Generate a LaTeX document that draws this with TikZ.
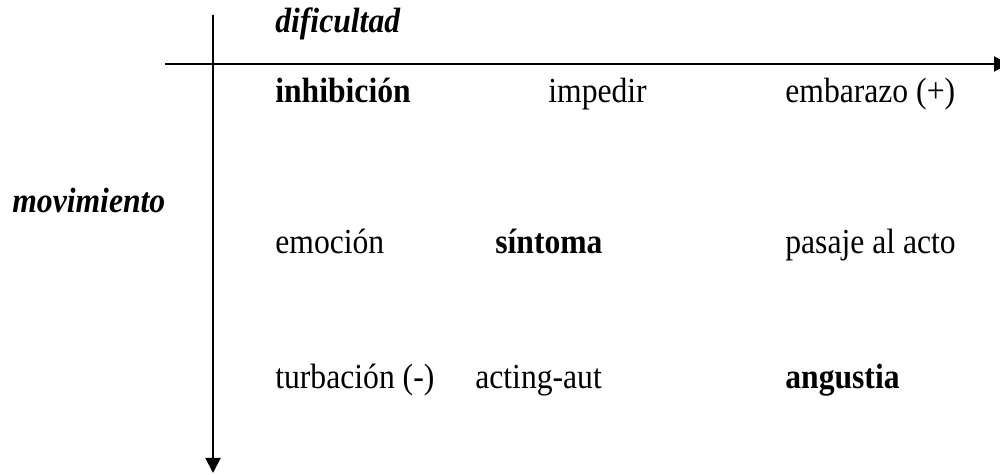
\documentclass[tikz,border=0pt]{standalone}
\usepackage{fontspec}
\setmainfont{Liberation Serif}[FakeStretch=0.9]
\usetikzlibrary{%
    arrows.meta%
}

\begin{document}
\begin{tikzpicture}[ term/.style={font={\fontsize{20}{24}\selectfont},anchor=base west,inner sep=0pt},
    key/.style={term,font={\fontsize{20}{24}\selectfont\bfseries}},
    axislabel/.style={term,font={\fontsize{20}{24}\selectfont\bfseries\itshape}},
    axis/.style={line width=1.1pt,-{Triangle[length=0.3cm,width=0.3cm]}}]
\useasboundingbox (0,0) rectangle (20,9.5);

\coordinate (top) at (4.26,9.2);
\coordinate (bottom) at (4.26,0.04);
\coordinate (left) at (3.3,8.22);
\coordinate (right) at (20.18,8.22);
\draw[axis] (top)--(bottom);
\draw[axis] (left)--(right);

\node[axislabel] (dif) at (5.5,8.84) {dificultad};
\node[axislabel] (mov) at (0.24,5.24) {movimiento};

\node[key] (inh) at (5.5,7.44) {inhibición};
\node[term] (imp) at (10.96,7.44) {impedir};
\node[term] (emb) at (15.7,7.44) {embarazo (+)};

\node[term] (emo) at (5.5,4.42) {emoción};
\node[key] (sin) at (9.9,4.42) {síntoma};
\node[term] (pas) at (15.7,4.42) {pasaje al acto};

\node[term] (tur) at (5.5,1.72) {turbación (-)};
\node[term] (act) at (9.5,1.72) {acting-aut};
\node[key] (ang) at (15.7,1.72) {angustia};

\end{tikzpicture}
\end{document}
